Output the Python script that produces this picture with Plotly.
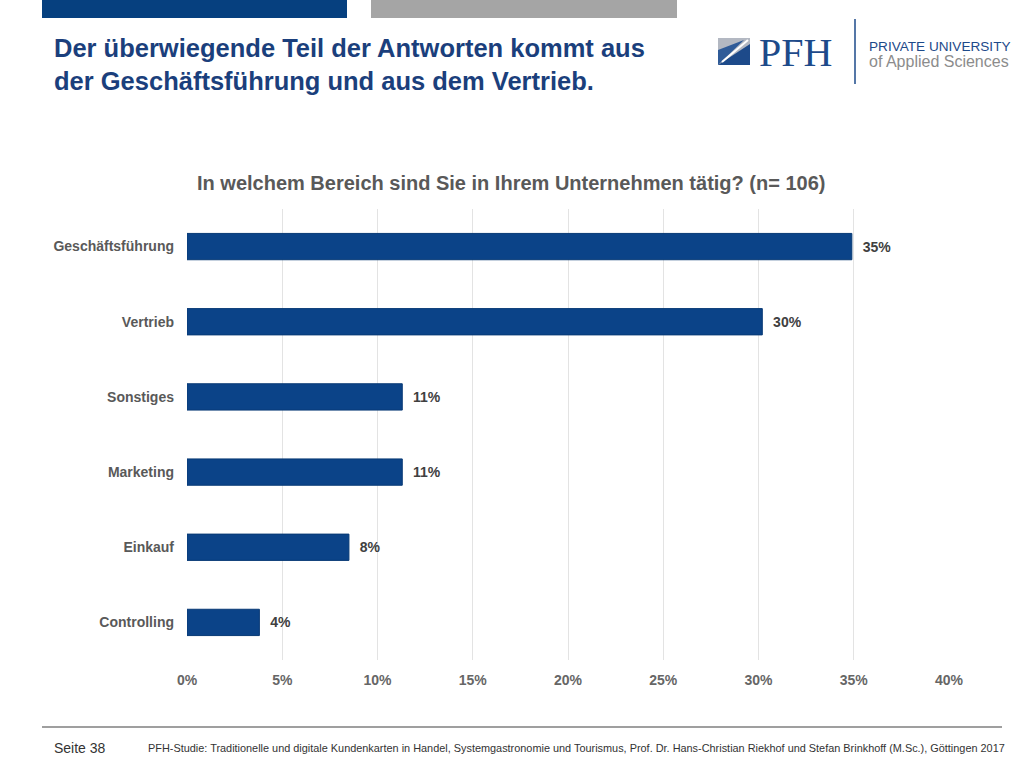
import plotly.graph_objects as go

# survey answers, n = 106
bereiche = ['Geschäftsführung', 'Vertrieb', 'Sonstiges', 'Marketing', 'Einkauf', 'Controlling']
anteile = [34.9, 30.2, 11.3, 11.3, 8.5, 3.8]
labels = ['35%', '30%', '11%', '11%', '8%', '4%']
tick_vals = [0, 5, 10, 15, 20, 25, 30, 35, 40]
tick_text = ['0%', '5%', '10%', '15%', '20%', '25%', '30%', '35%', '40%']

W, H = 1030, 772
L, R, T, B = 187, 949, 209, 660
NAVY = '#0b4388'
GREY = '#595959'


def px(x):
    return (x - L) / (R - L)


def py(y):
    return (B - y) / (B - T)


fig = go.Figure()

fig.add_trace(
    go.Bar(
        x=anteile,
        y=bereiche,
        orientation='h',
        text=['\u00a0\u00a0' + t for t in labels],
        textposition='outside',
        textfont=dict(family='Liberation Sans', size=14, color='#404040', weight='bold'),
        marker=dict(color=NAVY, line=dict(color='#083a75', width=1)),
        cliponaxis=False,
        hoverinfo='x+y'
    )
)

fig.update_xaxes(
    range=[0, 40],
    tickvals=tick_vals,
    ticktext=tick_text,
    showgrid=True,
    gridcolor='#e3e3e3',
    gridwidth=1,
    zeroline=False,
    showline=False,
    ticks='',
    ticklabelstandoff=10,
    tickfont=dict(family='Liberation Sans', size=14, color='#666666', weight='bold')
)

fig.update_yaxes(
    autorange='reversed',
    showgrid=False,
    showline=False,
    ticks='',
    ticklabelstandoff=12,
    tickfont=dict(family='Liberation Sans', size=14, color=GREY, weight='bold')
)

shapes = [
    # header bars
    dict(type='rect', x0=px(42), x1=px(347), y0=py(0), y1=py(18), fillcolor='#06407f', line_width=0),
    dict(type='rect', x0=px(371), x1=px(677), y0=py(0), y1=py(18), fillcolor='#a5a5a5', line_width=0),
    # logo icon
    dict(type='rect', x0=px(718), x1=px(750), y0=py(38), y1=py(65), fillcolor='#b3b8c2', line_width=0),
    dict(type='path', path='M %f %f L %f %f L %f %f Z' % (px(718), py(65), px(718), py(50), px(744), py(40)),
         fillcolor='#2f5b98', line_width=0),
    dict(type='path', path='M %f %f L %f %f L %f %f Z' % (px(718), py(65), px(750), py(65), px(750), py(44)),
         fillcolor='#1d4a8a', line_width=0),
    dict(type='line', x0=px(722), x1=px(748), y0=py(62), y1=py(40), line=dict(color='white', width=2)),
    # logo separator
    dict(type='line', x0=px(855), x1=px(855), y0=py(19), y1=py(84), line=dict(color='#1d4a8a', width=1.5)),
    # footer rule
    dict(type='line', x0=px(42), x1=px(1002), y0=py(727), y1=py(727), line=dict(color='#7f7f7f', width=1.5)),
]

annotations = [
    dict(x=px(52), y=py(64), xanchor='left', yanchor='middle', align='left',
         text='Der überwiegende Teil der Antworten kommt aus<br>der Geschäftsführung und aus dem Vertrieb.',
         font=dict(family='Liberation Sans', size=25.5, color='#1b3f7c', weight='bold')),
    dict(x=px(757), y=py(52), xanchor='left', yanchor='middle', text='PFH',
         font=dict(family='Liberation Serif', size=40, color='#1d4a8a')),
    dict(x=px(867), y=py(46), xanchor='left', yanchor='middle', text='PRIVATE UNIVERSITY',
         font=dict(family='Liberation Sans', size=13.6, color='#1d4a8a')),
    dict(x=px(867), y=py(61), xanchor='left', yanchor='middle', text='of Applied Sciences',
         font=dict(family='Liberation Sans', size=16, color='#8c8c8c')),
    dict(x=px(511), y=py(183), xanchor='center', yanchor='middle',
         text='In welchem Bereich sind Sie in Ihrem Unternehmen tätig? (n= 106)',
         font=dict(family='Liberation Sans', size=20, color=GREY, weight='bold')),
    dict(x=px(52), y=py(748), xanchor='left', yanchor='middle', text='Seite 38',
         font=dict(family='Liberation Sans', size=14, color='#333333')),
    dict(x=px(146), y=py(748), xanchor='left', yanchor='middle',
         text='PFH-Studie: Traditionelle und digitale Kundenkarten in Handel, Systemgastronomie und Tourismus, '
              'Prof. Dr. Hans-Christian Riekhof und Stefan Brinkhoff (M.Sc.), Göttingen 2017',
         font=dict(family='Liberation Sans', size=10.9, color='#333333')),
]
for a in annotations:
    a.update(xref='paper', yref='paper', showarrow=False)
for s in shapes:
    s.update(xref='paper', yref='paper')

fig.update_layout(
    width=W,
    height=H,
    margin=dict(l=L, r=W - R, t=T, b=H - B),
    bargap=0.65,
    plot_bgcolor='white',
    paper_bgcolor='white',
    showlegend=False,
    shapes=shapes,
    annotations=annotations
)

# page body has a default 8px margin; drop it so the figure sits at the window corner
fig.write_html('out.html', config={'displayModeBar': False},
               post_script="document.body.style.margin='0px';")
